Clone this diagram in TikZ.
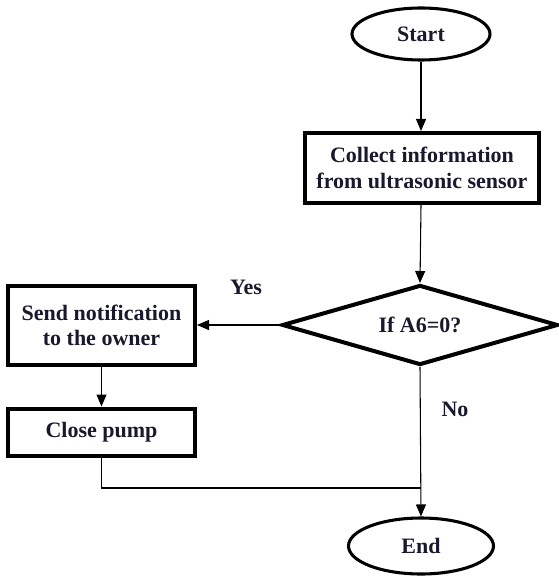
\documentclass[tikz,border=0pt]{standalone}
\usepackage{fontspec}
\setmainfont{Liberation Serif}
\usetikzlibrary{shapes.geometric,arrows.meta}
\definecolor{txt}{RGB}{25,25,45}
\begin{document}
\begin{tikzpicture}[x=0.75pt,y=-0.75pt,
  every node/.style={font=\fontsize{16.5}{19}\selectfont\bfseries, text=txt, align=center},
  term/.style={draw, ellipse, line width=2.3pt, inner sep=0pt},
  proc/.style={draw, rectangle, line width=3pt, inner sep=0pt},
  decide/.style={draw, diamond, line width=3pt, inner sep=0pt, aspect=3.45},
  conn/.style={line width=0.8pt, -{Triangle[width=7.5pt,length=9pt]}},
  lbl/.style={}]
\useasboundingbox (0,0) rectangle (558,577);
\node[term, minimum width=103.5pt, minimum height=39pt] (start) at (421,34) {Start};
\node[proc, minimum width=175.5pt, minimum height=52.5pt] (collect) at (422,168) {Collect information\\from ultrasonic sensor};
\node[decide, minimum width=207pt, minimum height=60pt] (dec) at (420,325) {If A6=0?};
\node[proc, minimum width=140.25pt, minimum height=59.25pt] (send) at (101.5,325.5) {Send notification\\to the owner};
\node[proc, minimum width=140.25pt, minimum height=35.25pt] (close) at (101.5,432) {Close pump};
\node[term, minimum width=108.75pt, minimum height=42pt] (end) at (421,546) {End};
\node[lbl] (yes) at (246,287) {Yes};
\node[lbl] (no) at (455,409) {No};
\coordinate (j) at (421,488);
\coordinate (c) at (101.5,488);
\draw[conn] (start) -- (start|-collect.north);
\draw[conn] (collect.south-|start) -- (dec.north);
\draw[conn] (dec.west) -- (send.east|-dec.west);
\draw[conn] (send) -- (close);
\draw[line width=0.8pt] (close.south) -- (c) -- (j);
\draw[conn] (dec.south) -- (end.north);
\end{tikzpicture}
\end{document}
